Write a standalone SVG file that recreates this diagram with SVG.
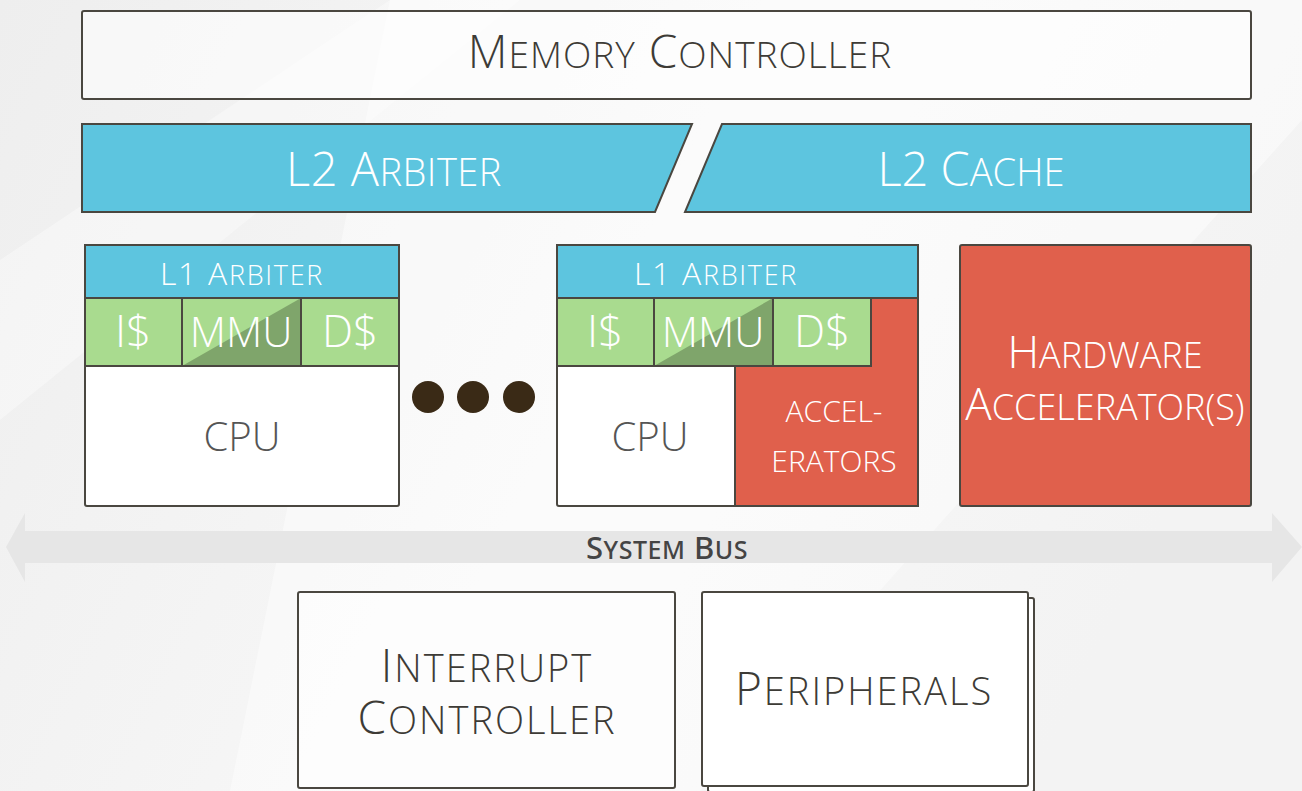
<svg xmlns="http://www.w3.org/2000/svg" width="1302" height="791" viewBox="0 0 1302 791">
<style>
.box{stroke:#4a4740;stroke-width:2;}
.w{fill:#ffffff;}
.wt{fill:#ffffff;fill-opacity:0.55;}
.blue{fill:#5dc5df;}
.green{fill:#a9db8f;}
.dkg{fill:#7fa56b;}
.red{fill:#e0604c;}
.t{font-family:"Open Sans","Liberation Sans",sans-serif;font-weight:300;text-anchor:middle;}
.dark{fill:#3d3b36;}
.grey{fill:#555555;}
.white{fill:#ffffff;}
.bus{font-family:"Noto Sans","DejaVu Sans",sans-serif;font-weight:500;text-anchor:middle;fill:#444444;}
</style>
<defs>
<linearGradient id="bg" x1="0" y1="0" x2="1" y2="0.3">
<stop offset="0" stop-color="#eeeeee"/>
<stop offset="0.6" stop-color="#f8f8f8"/>
<stop offset="1" stop-color="#f3f3f3"/>
</linearGradient>
</defs>
<rect width="1302" height="791" fill="url(#bg)"/>
<polygon points="390,0 1302,0 1302,120 700,791 230,791" fill="#ffffff" opacity="0.45"/>
<polygon points="0,260 390,0 520,0 0,420" fill="#ffffff" opacity="0.35"/>

<g id="memory-controller">
<rect class="box wt" x="82" y="11" width="1169" height="88" rx="2"/>
<text class="t dark" x="680" y="68" font-size="46" letter-spacing="1">M<tspan font-size="37">EMORY</tspan> C<tspan font-size="37">ONTROLLER</tspan></text>
</g>

<g id="l2-arbiter">
<polygon class="box blue" points="82,124 692,124 655,212 82,212"/>
<text class="t white" x="394" y="186" font-size="47" letter-spacing="0.5">L2 A<tspan font-size="38">RBITER</tspan></text>
</g>

<g id="l2-cache">
<polygon class="box blue" points="722,124 1251,124 1251,212 685,212"/>
<text class="t white" x="971" y="186" font-size="47">L2 C<tspan font-size="38">ACHE</tspan></text>
</g>

<g id="tile-1">
<rect class="box w" x="85" y="245" width="314" height="261" rx="2"/>
<rect class="box blue" x="85" y="245" width="314" height="53"/>
<text class="t white" x="242" y="285" font-size="32" font-weight="400" letter-spacing="1.7">L1 A<tspan font-size="27">RBITER</tspan></text>
<rect class="box green" x="85" y="298" width="97" height="68"/>
<rect class="green" x="182" y="298" width="119" height="68"/>
<polygon class="dkg" points="301,298 301,366 182,366"/>
<rect class="box" fill="none" x="182" y="298" width="119" height="68"/>
<rect class="box green" x="301" y="298" width="98" height="68"/>
<text class="t white" x="133" y="347" font-size="44" font-weight="400">I$</text>
<text class="t white" x="241" y="347" font-size="42" font-weight="400">MMU</text>
<text class="t white" x="350" y="347" font-size="44" font-weight="400">D$</text>
<text class="t grey" x="242" y="451" font-size="40">CPU</text>
</g>

<g id="ellipsis" fill="#3a2a16">
<circle cx="428" cy="397" r="16"/>
<circle cx="473" cy="397" r="16"/>
<circle cx="519" cy="397" r="16"/>
</g>

<g id="tile-2">
<rect class="box w" x="557" y="245" width="361" height="261" rx="2"/>
<polygon class="box red" points="871,298 918,298 918,506 735,506 735,366 871,366"/>
<rect class="box blue" x="557" y="245" width="361" height="53"/>
<text class="t white" x="716" y="285" font-size="32" font-weight="400" letter-spacing="1.7">L1 A<tspan font-size="27">RBITER</tspan></text>
<rect class="box green" x="557" y="298" width="97" height="68"/>
<rect class="green" x="654" y="298" width="119" height="68"/>
<polygon class="dkg" points="773,298 773,366 654,366"/>
<rect class="box" fill="none" x="654" y="298" width="119" height="68"/>
<rect class="box green" x="773" y="298" width="98" height="68"/>
<text class="t white" x="605" y="347" font-size="44" font-weight="400">I$</text>
<text class="t white" x="713" y="347" font-size="42" font-weight="400">MMU</text>
<text class="t white" x="822" y="347" font-size="44" font-weight="400">D$</text>
<text class="t grey" x="650" y="451" font-size="40">CPU</text>
<text class="t white" font-size="30"><tspan x="834" y="422">ACCEL-</tspan><tspan x="834" y="472">ERATORS</tspan></text>
</g>

<g id="hardware-accelerators">
<rect class="box red" x="960" y="245" width="291" height="261" rx="2"/>
<text class="t white" font-size="44"><tspan x="1105" y="368">H<tspan font-size="36">ARDWARE</tspan></tspan><tspan x="1105" y="420">A<tspan font-size="36">CCELERATOR(S)</tspan></tspan></text>
</g>

<g id="connectors">
<polygon id="system-bus" fill="#e6e6e6" points="6,547 25,513 25,531 1272,531 1272,513 1302,547 1272,582 1272,563 25,563 25,582"/>
<text class="bus" x="667" y="559" font-size="31" letter-spacing="0.5">S<tspan font-size="25">YSTEM</tspan> B<tspan font-size="25">US</tspan></text>
</g>

<g id="interrupt-controller">
<rect class="box wt" x="298" y="592" width="377" height="196" rx="2"/>
<text class="t dark" font-size="46" letter-spacing="2"><tspan x="487" y="682">I<tspan font-size="38">NTERRUPT</tspan></tspan><tspan x="487" y="734">C<tspan font-size="38">ONTROLLER</tspan></tspan></text>
</g>

<g id="peripherals">
<rect class="box w" x="708" y="598" width="326" height="194" rx="2"/>
<rect class="box w" x="702" y="592" width="326" height="194" rx="2"/>
<text class="t dark" x="864" y="705" font-size="46" letter-spacing="2">P<tspan font-size="38">ERIPHERALS</tspan></text>
</g>
</svg>
